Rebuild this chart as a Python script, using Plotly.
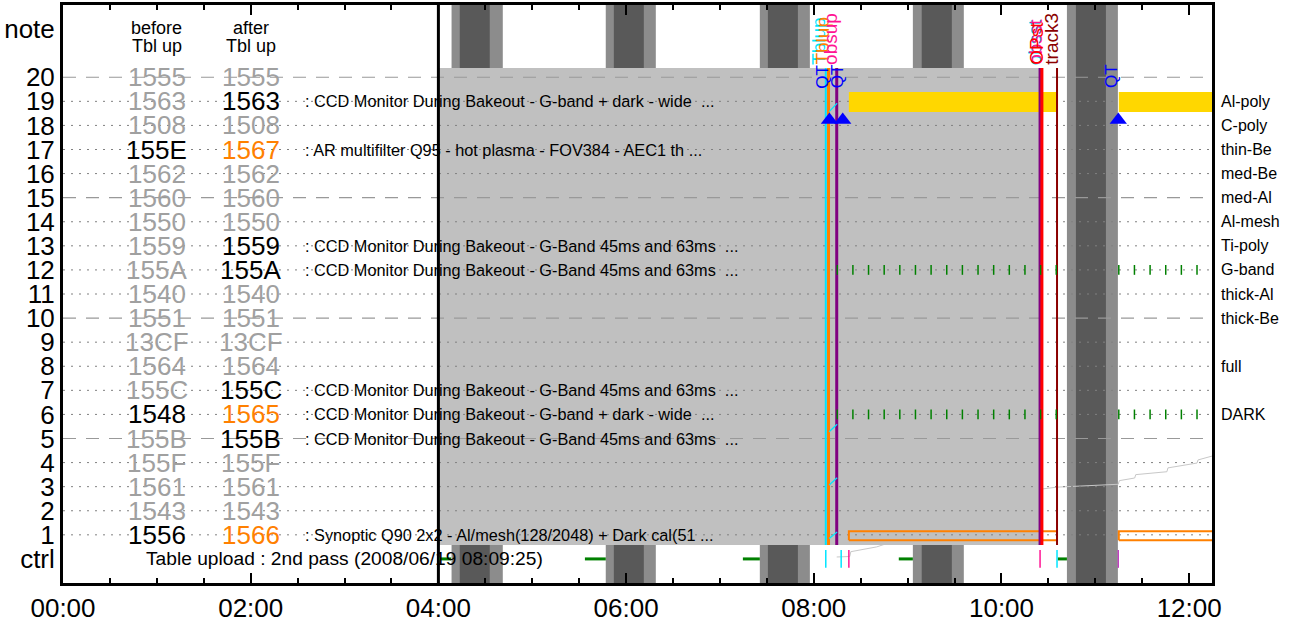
import plotly.graph_objects as go

DAY = "2008-06-19"


def ts(hms):
    """Clock time on the plotted day -> timestamp string."""
    if hms.count(":") == 1:
        hms += ":00"
    return f"{DAY} {hms}"


# ---- observation table slots (row 20 at top, row 1 at bottom) ----
slot_rows = list(range(20, 0, -1))
before_ids = ["1555", "1563", "1508", "155E", "1562", "1560", "1550", "1559", "155A", "1540",
              "1551", "13CF", "1564", "155C", "1548", "155B", "155F", "1561", "1543", "1556"]
before_state = ["idle", "idle", "idle", "used", "idle", "idle", "idle", "idle", "idle", "idle",
                "idle", "idle", "idle", "idle", "used", "idle", "idle", "idle", "idle", "used"]
after_ids = ["1555", "1563", "1508", "1567", "1562", "1560", "1550", "1559", "155A", "1540",
             "1551", "13CF", "1564", "155C", "1565", "155B", "155F", "1561", "1543", "1566"]
after_state = ["idle", "used", "idle", "new", "idle", "idle", "idle", "used", "used", "idle",
               "idle", "idle", "idle", "used", "new", "used", "idle", "idle", "idle", "new"]

desc_rows = [19, 17, 13, 12, 7, 6, 5, 1]
desc_texts = [
    ": CCD Monitor During Bakeout - G-band + dark - wide  ...",
    ": AR multifilter Q95 - hot plasma - FOV384 - AEC1 th ...",
    ": CCD Monitor During Bakeout - G-Band 45ms and 63ms  ...",
    ": CCD Monitor During Bakeout - G-Band 45ms and 63ms  ...",
    ": CCD Monitor During Bakeout - G-Band 45ms and 63ms  ...",
    ": CCD Monitor During Bakeout - G-band + dark - wide  ...",
    ": CCD Monitor During Bakeout - G-Band 45ms and 63ms  ...",
    ": Synoptic Q90 2x2 - Al/mesh(128/2048) + Dark cal(51 ...",
]

filter_rows = [19, 18, 17, 16, 15, 14, 13, 12, 11, 10, 8, 6]
filter_names = ["Al-poly", "C-poly", "thin-Be", "med-Be", "med-Al", "Al-mesh", "Ti-poly",
                "G-band", "thick-Al", "thick-Be", "full", "DARK"]

ctrl_text = "Table upload : 2nd pass (2008/06/19 08:09:25)"

# ---- orbit night / SAA bands: (outer start, inner start, inner end, outer end) ----
bands = [
    ("04:08:25", "04:13:40", "04:32:50", "04:41:10"),
    ("05:47:00", "05:52:10", "06:11:20", "06:19:00"),
    ("07:25:30", "07:30:40", "07:49:50", "07:57:30"),
    ("09:03:20", "09:09:00", "09:28:15", "09:35:55"),
    ("10:41:50", "10:47:35", "11:06:45", "11:14:25"),
]

# uploaded-table validity window
table_window = ("04:00:00", "10:24:40")

# events
event_lines = [
    ("08:07:40", "#00e5ff", 2),
    ("08:09:25", "#ff8000", 3),
    ("08:14:40", "#800080", 3),
    ("10:24:40", "#800080", 3),
    ("10:25:50", "#ff0000", 3),
    ("10:35:30", "#8b0000", 2),
]
event_labels = [
    ("08:03:20", "Tblup", "#00e5ff"),
    ("08:05:40", "Tblup", "#ff8000"),
    ("08:11:00", "obsup", "#ff1493"),
    ("10:21:40", "obsst", "#00e5ff"),
    ("10:22:00", "obsst", "#ff1493"),
    ("10:22:20", "OPst", "#ff0000"),
    ("10:32:10", "track3", "#8b0000"),
]
qt_label_times = ["08:05:20", "08:15:20", "11:10:20"]
qt_times = ["08:10:00", "08:18:30", "11:14:40"]

# filter-wheel occupancy (Al-poly) and observing program windows (slot 1)
alpoly_spans = [("08:22:25", "10:35:30"), ("11:15:00", "12:30:00")]
program_spans = [("08:22:25", "10:24:40"), ("10:24:40", "10:35:30"), ("11:15:00", "12:30:00")]

# exposures in G-band and DARK slots
exposure_times = ["08:15", "08:25", "08:35", "08:45", "08:55", "09:05", "09:15", "09:25",
                  "09:35", "09:45", "09:55", "10:05", "10:15", "10:25", "10:35",
                  "11:15", "11:25", "11:35", "11:45", "11:55", "12:05"]
exposure_rows = [12, 6]

# ground contacts on the ctrl line
contacts = [("04:00:40", "04:08:10"), ("05:33:40", "05:47:00"), ("07:14:40", "07:25:30"),
            ("08:54:20", "09:03:20"), ("10:36:00", "10:41:50")]
ctrl_marks = [("08:07:40", "#00e5ff"), ("08:17:30", "#00e5ff"), ("08:22:25", "#ff1493"),
              ("10:24:40", "#ff1493"), ("10:35:30", "#00e5ff"), ("11:14:40", "#c040c0")]

# command-echo ticks
echo_segments = [(("08:09:50", 18.57), ("08:14:56", 18.92)),
                 (("08:09:50", 5.28), ("08:14:56", 5.59)),
                 (("08:09:50", 3.07), ("08:14:56", 3.37)),
                 (("08:09:50", 0.85), ("08:14:56", 1.12))]

# data recorder level
recorder_times = ["08:14:40", "08:23:00", "08:23:40", "08:40:15", "10:24:40", "10:25:20",
                  "10:35:30", "11:14:40", "11:15:20", "11:25:10", "11:25:50", "11:45:45",
                  "11:46:25", "12:05:00", "12:05:40", "12:14:35"]
recorder_level = [0.08, 0.10, 0.30, 0.50, 2.74, 2.90, 2.98, 3.10, 3.25, 3.36, 3.50,
                  3.62, 3.78, 3.98, 4.11, 4.27]

X_START, X_END = ts("00:00"), ts("12:14:35")
Y_LO, Y_HI = -1, 23
ROW_TOP, ROW_BOT = 20.38, 0.58

STATE_COLOR = {"idle": "#a0a0a0", "used": "#000000", "new": "#ff8000"}
FONT = "Liberation Sans, Arial, sans-serif"

fig = go.Figure()


def add_rect(x0, x1, y0, y1, fill=None, line=None, lw=0):
    fig.add_trace(go.Scatter(
        x=[ts(x0), ts(x1), ts(x1), ts(x0), ts(x0)], y=[y0, y0, y1, y1, y0],
        mode="lines", fill="toself" if fill else None, fillcolor=fill,
        line=dict(color=line or "rgba(0,0,0,0)", width=lw),
        hoverinfo="skip", showlegend=False))


def add_line(xs, ys, color, width, dash=None):
    fig.add_trace(go.Scatter(
        x=xs, y=ys, mode="lines", line=dict(color=color, width=width, dash=dash),
        hoverinfo="skip", showlegend=False))


# bands
for o0, i0, i1, o1 in bands:
    add_rect(o0, o1, Y_LO, Y_HI, fill="#8c8c8c")
    add_rect(i0, i1, Y_LO, Y_HI, fill="#595959")

# recorder level
add_line([ts(t) for t in recorder_times], recorder_level, "#c8c8c8", 1)

# table window
add_rect(table_window[0], table_window[1], ROW_BOT, ROW_TOP, fill="#c0c0c0")

# row guide lines
for r in range(1, 21):
    if r % 5 == 0:
        add_line([X_START, X_END], [r, r], "#999999", 1.2, dash="13px,10px")
    else:
        add_line([X_START, X_END], [r, r], "#808080", 1, dash="2px,6px")

# Al-poly occupancy
for a, b in alpoly_spans:
    add_rect(a, b, 18.56, 19.39, fill="#ffd700")

# program windows in slot 1
for a, b in program_spans:
    add_rect(a, b, 0.77, 1.15, line="#ff8000", lw=2)

# event lines
for t, c, w in event_lines:
    add_line([ts(t), ts(t)], [ROW_BOT, ROW_TOP], c, w)

# command echoes
for (t0, y0), (t1, y1) in echo_segments:
    add_line([ts(t0), ts(t1)], [y0, y1], "#00e5ff", 1.2)

# table upload boundary
add_line([ts("04:00"), ts("04:00")], [Y_LO, Y_HI], "#000000", 3)

# exposures
for r in exposure_rows:
    fig.add_trace(go.Scatter(
        x=[ts(t) for t in exposure_times], y=[r] * len(exposure_times), mode="markers",
        marker=dict(symbol="line-ns", size=7, line=dict(color="#008000", width=1.5)),
        hoverinfo="skip", showlegend=False))

# ground contacts
for a, b in contacts:
    add_line([ts(a), ts(b)], [0, 0], "#008000", 3)

# ctrl marks
for t, c in ctrl_marks:
    add_line([ts(t), ts(t)], [-0.37, 0.37], c, 1.5)

# QT triangles
fig.add_trace(go.Scatter(
    x=[ts(t) for t in qt_times], y=[18.22] * len(qt_times), mode="markers",
    marker=dict(symbol="triangle-up", size=15, color="#0000ff", line=dict(width=0)),
    hoverinfo="skip", showlegend=False))

ann = []


def text(x, y, s, size, color="#000000", xanchor="center", yanchor="middle", xref="x", xshift=0, angle=0):
    ann.append(dict(x=x, y=y, xref=xref, yref="y", text=s, showarrow=False,
                    xanchor=xanchor, yanchor=yanchor, xshift=xshift, textangle=angle,
                    font=dict(family=FONT, size=size, color=color)))


# column headers
text(ts("01:00"), 22.05, "before", 18)
text(ts("02:00"), 22.05, "after", 18)
text(ts("01:00"), 21.3, "Tbl up", 18)
text(ts("02:00"), 21.3, "Tbl up", 18)

for r, b, bs, a, as_ in zip(slot_rows, before_ids, before_state, after_ids, after_state):
    text(ts("01:00"), r, b, 26, STATE_COLOR[bs])
    text(ts("02:00"), r, a, 26, STATE_COLOR[as_])

for r, d in zip(desc_rows, desc_texts):
    text(ts("02:33:30"), r, d, 16.3, xanchor="left")

for r, n in zip(filter_rows, filter_names):
    text(1, r, n, 16, xanchor="left", xref="paper", xshift=7)

text(ts("03:00"), 0, ctrl_text, 19.2)

for t, s, c in event_labels:
    text(ts(t), ROW_TOP + 0.05, s, 19, c, yanchor="bottom", angle=-90)
for t in qt_label_times:
    text(ts(t), 19.45, "QT", 17, "#0000ff", yanchor="bottom", angle=-90)

fig.update_layout(
    width=1296, height=625,
    margin=dict(l=63, r=84, t=5, b=42),
    paper_bgcolor="white", plot_bgcolor="white",
    annotations=ann, showlegend=False, hovermode=False,
    xaxis=dict(
        type="date", range=[X_START, X_END], showgrid=False, zeroline=False, automargin=False,
        tickformat="%H:%M", tick0=ts("00:00"), dtick=2 * 3600 * 1000,
        ticks="inside", ticklen=10, tickwidth=2, tickcolor="black",
        minor=dict(ticks="inside", ticklen=5, tickwidth=1.5, dtick=1800 * 1000, tickcolor="black", showgrid=False),
        showline=True, linewidth=3, linecolor="black", mirror="allticks",
        tickfont=dict(family=FONT, size=26, color="black"),
    ),
    yaxis=dict(
        range=[Y_LO, Y_HI], showgrid=False, zeroline=False, automargin=False,
        tickmode="array", tickvals=list(range(0, 21)) + [22],
        ticktext=["ctrl"] + [str(i) for i in range(1, 21)] + ["note"],
        ticks="", showline=True, linewidth=3, linecolor="black", mirror=True,
        tickfont=dict(family=FONT, size=26, color="black"),
    ),
)

fig.write_html("out.html")
